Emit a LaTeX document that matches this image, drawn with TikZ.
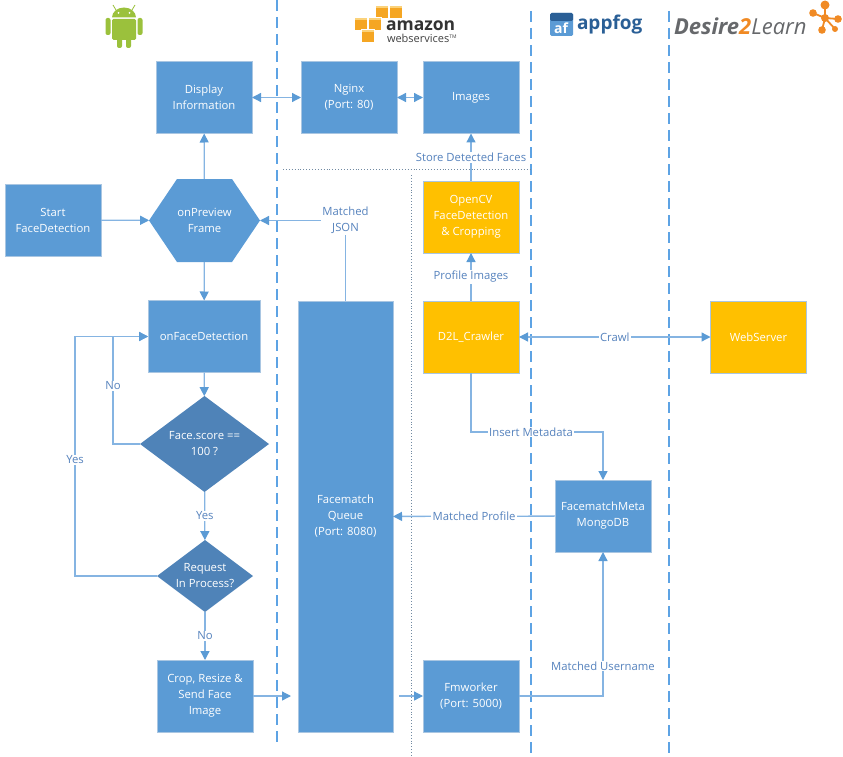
\documentclass[tikz,border=0pt]{standalone}
\usepackage{fontspec}
\setmainfont{Open Sans}
\usetikzlibrary{arrows.meta,shapes.geometric,shapes.symbols,shadows}
\definecolor{boxblue}{HTML}{5B9BD5}
\definecolor{boxedge}{HTML}{A9C6E2}
\definecolor{deepblue}{HTML}{4F83B8}
\definecolor{amberbox}{HTML}{FFC000}
\definecolor{linkblue}{HTML}{85B4E2}
\definecolor{tipblue}{HTML}{5B9BD5}
\definecolor{textblue}{HTML}{5582BD}
\definecolor{laneblue}{HTML}{5DA3E4}
\definecolor{droidgreen}{HTML}{9BC13C}
\definecolor{awsorange}{HTML}{F5A623}
\definecolor{awslight}{HTML}{FBD27A}
\definecolor{dtlgray}{HTML}{66686B}
\definecolor{dtlorange}{HTML}{F08A24}
\definecolor{fogblue}{HTML}{2A5F96}
\tikzset{
  every node/.style={font=\fontsize{11.3}{16}\selectfont,align=center,inner sep=0pt,outer sep=0pt},
  service/.style={draw=boxedge,line width=.8pt,fill=boxblue,text=white,minimum width=96,minimum height=72,
    drop shadow={shadow xshift=.8pt,shadow yshift=-.8pt,opacity=.18}},
  crawlbox/.style={service,fill=amberbox},
  decision/.style={diamond,aspect=1.34,fill=deepblue,text=white,inner sep=0pt},
  link/.style={draw=linkblue,line width=1.3pt,-{Triangle[length=9pt,width=9pt,color=tipblue]}},
  twoway/.style={link,{Triangle[length=9pt,width=9pt,color=tipblue]}-{Triangle[length=9pt,width=9pt,color=tipblue]}},
  linklabel/.style={fill=white,text=textblue,inner xsep=1.5pt,inner ysep=1pt},
  lane/.style={draw=laneblue,line width=1.2pt,dash pattern=on 11pt off 6pt},
  zone/.style={draw=gray!60!boxblue,line width=.9pt,dotted},
}
\begin{document}
\begin{tikzpicture}[x=1pt,y=-1pt]
\useasboundingbox (0,0) rectangle (843,757);

% swim lanes
\coordinate (lane1top) at (277,0);
\coordinate (lane1end) at (277,745);
\coordinate (lane2top) at (531,11);
\coordinate (lane2end) at (531,753);
\coordinate (lane3top) at (669,11);
\coordinate (lane3end) at (669,753);
\coordinate (zoneleft) at (283,169);
\coordinate (zoneright) at (531,169);
\coordinate (zonetop) at (411,175);
\coordinate (zoneend) at (411,757);
\draw[lane] (lane1top) -- (lane1end);
\draw[lane] (lane2top) -- (lane2end);
\draw[lane] (lane3top) -- (lane3end);
\draw[zone] (zoneleft) -- (zoneright);
\draw[zone] (zonetop) -- (zoneend);

% android
\fill[droidgreen] (112,17.5) arc[start angle=180,end angle=360,x radius=12,y radius=10] -- cycle;
\fill[droidgreen,rounded corners=1.5pt] (112,19) rectangle (136,40);
\fill[droidgreen,rounded corners=2pt] (105.5,18) rectangle (110.5,35);
\fill[droidgreen,rounded corners=2pt] (137.5,18) rectangle (142.5,35);
\fill[droidgreen,rounded corners=2pt] (117,36) rectangle (122,48);
\fill[droidgreen,rounded corners=2pt] (126,36) rectangle (131,48);
\draw[droidgreen,line width=.8pt] (116,10) -- (113,5);
\draw[droidgreen,line width=.8pt] (132,10) -- (135,5);
\fill[white] (118.5,13) circle (1);
\fill[white] (129.5,13) circle (1);

% amazon
\foreach \cx/\cy in {382/12,396/12,361/24,375/24,368/36}{
  \fill[awsorange] (\cx-6.5,\cy-6.5) rectangle (\cx+6.5,\cy+6.5);
  \fill[awslight] (\cx-6.5,\cy-6.5) rectangle (\cx+6.5,\cy-3.5);
  \draw[white,line width=.5pt] (\cx-6.5,\cy-6.5) rectangle (\cx+6.5,\cy+6.5);
}
\node[anchor=west,font=\fontsize{17.5}{17}\selectfont\bfseries,text=black!80] (amazonlogo) at (386,26) {amazon};
\node[anchor=west,font=\fontsize{11}{10}\selectfont,text=black!75] (awslogo) at (387,38) {webservices\textsuperscript{\tiny TM}};

% appfog
\fill[boxblue,rounded corners=1.5pt] (550,13) rectangle (573,36);
\fill[fogblue,rounded corners=1.5pt] (550,13) rectangle (573,21);
\node[font=\fontsize{14}{14}\selectfont\bfseries,text=white] (aflogo) at (561,28) {af};
\node[anchor=west,font=\fontsize{19}{19}\selectfont\bfseries,text=fogblue] (fogname) at (577,25) {appfog};

% desire2learn
\node[anchor=west,font=\fontsize{22}{22}\selectfont\itshape,text=dtlgray] (dtlname) at (674,26)
  {\textbf{Desire}{\bfseries\color{dtlorange}2}Learn};
\foreach \cx/\cy in {825/5,813/13,838/19,822/30,835/29}
  \draw[dtlorange,line width=1.8pt] (825,18) -- (\cx,\cy);
\foreach \cx/\cy/\cr in {825/18/4,825/5/4.5,813/13/3.8,838/19/3.8,822/30/3.8,835/29/3}
  \fill[dtlorange] (\cx,\cy) circle (\cr);

% android side
\node[service] (display) at (204,97.5) {Display\\Information};
\node[service] (start) at (53,220) {Start\\FaceDetection};
\node[signal,signal to=east and west,signal pointer angle=112,fill=boxblue,text=white,minimum width=111,minimum height=83] (preview) at (204.5,220.5) {onPreview\\Frame};
\node[service,minimum width=112] (facedet) at (204,336.5) {onFaceDetection};
\node[decision,minimum width=129,minimum height=96] (score) at (204.5,444) {Face.score ==\\100 ?};
\node[decision,minimum width=96,minimum height=72] (request) at (205,576) {Request\\In Process?};
\node[service] (crop) at (205,696) {Crop, Resize \&\\Send Face\\Image};

% amazon side
\node[service] (nginx) at (349,97.5) {Nginx\\(Port: 80)};
\node[service] (images) at (471,97.5) {Images};
\node[service,minimum width=95,minimum height=431] (queue) at (345.5,516.5) {Facematch\\Queue\\(Port: 8080)};
\node[crawlbox] (opencv) at (471,217) {OpenCV\\FaceDetection\\\& Cropping};
\node[crawlbox] (crawler) at (471,337) {D2L\_Crawler};
\node[service] (fmworker) at (471,696) {Fmworker\\(Port: 5000)};

% appfog and d2l side
\node[service] (meta) at (603,516) {FacematchMeta\\MongoDB};
\node[crawlbox] (webserver) at (758.5,337) {WebServer};

% bends and free ends
\coordinate (nobend) at (113,336.5);
\coordinate (yesbend) at (75,336.5);
\coordinate (insertbend) at (531,432);
\coordinate (cropend) at (291,696);
\coordinate (workerstart) at (399,696);

% links
\draw[twoway] (display) -- (nginx);
\draw[twoway] (nginx) -- (images);
\draw[link] (start) -- (preview);
\draw[link] (preview) -- (display);
\draw[link] (preview) -- (facedet);
\draw[link] (facedet) -- (score);
\draw[link] (score) -- node[linklabel]{Yes} (request);
\draw[link] (request) -- node[linklabel]{No} (crop);
\draw[link] (score.west) -| (nobend) node[linklabel,pos=.77]{No} -- (facedet.west);
\draw[link] (request.west) -| (yesbend) node[linklabel,pos=.743]{Yes} -- (facedet.west);
\draw[link] (queue.north) |- (preview.east) node[linklabel,pos=.5]{Matched\\JSON};
\draw[link] (crop) -- (cropend);
\draw[link] (workerstart) -- (fmworker);
\draw[link] (opencv) -- node[linklabel,pos=.5]{Store Detected Faces} (images);
\draw[link] (crawler) -- node[linklabel]{Profile Images} (opencv);
\draw[twoway] (crawler) -- node[linklabel]{Crawl} (webserver);
\draw[link] (crawler.south) |- (insertbend) node[linklabel,pos=1]{Insert Metadata} -| (meta.north);
\draw[link] (meta) -- node[linklabel,pos=.5]{Matched Profile} (queue);
\draw[link] (fmworker.east) -| (meta.south) node[linklabel,pos=.604]{Matched Username};
\end{tikzpicture}
\end{document}
